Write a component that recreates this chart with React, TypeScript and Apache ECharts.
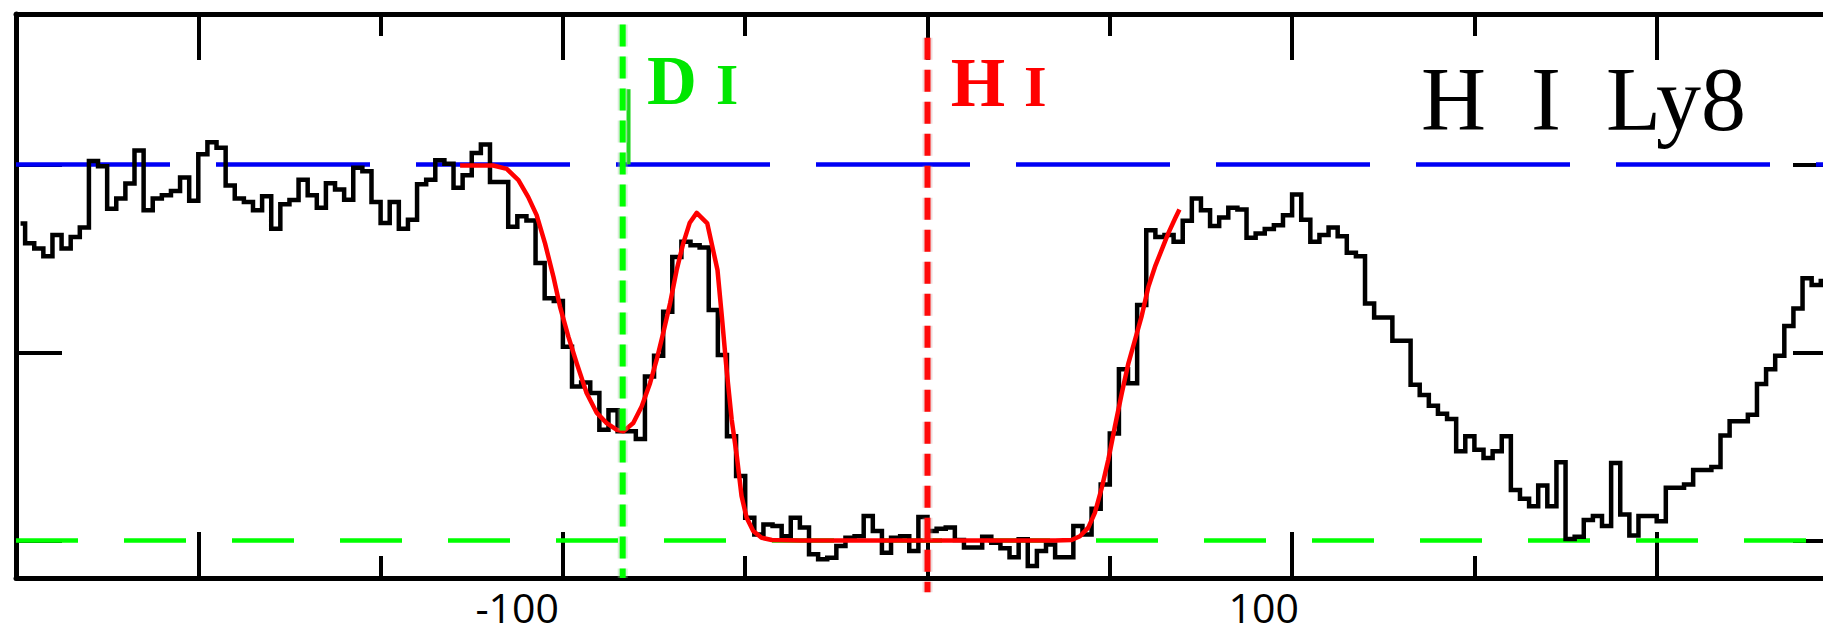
import React, { useEffect, useRef } from "react";
import * as echarts from "echarts";

// Axis ranges (velocity in km/s, normalised flux)
const velocityMin = -250;
const velocityMax = 250;
const fluxMin = -0.1;
const fluxMax = 1.4;

// Tick positions and labels
const majorTicks = [-200, -100, 0, 100, 200];
const minorTicks = [-150, -50, 50, 150];
const tickLabels = [-100, 100];
const fluxTicks = [0, 0.5, 1];

// Observed spectrum: 2.5 km/s bins, first bin centred at -248.75 km/s
const binStart = -248.75;
const binWidth = 2.5;
const observedFlux = [
  0.843, 0.79, 0.776, 0.756, 0.812, 0.776, 0.807, 0.832, 1.009, 0.995,
  0.882, 0.909, 0.949, 1.037, 0.878, 0.909, 0.918, 0.929, 0.965, 0.903,
  1.027, 1.059, 1.044, 0.944, 0.909, 0.9, 0.878, 0.915, 0.829, 0.894,
  0.905, 0.959, 0.918, 0.885, 0.95, 0.933, 0.906, 0.991, 0.982, 0.9,
  0.844, 0.9, 0.829, 0.853, 0.947, 0.959, 1.011, 1.002, 0.938, 0.971,
  1.03, 1.053, 0.953, 0.953, 0.834, 0.862, 0.851, 0.738, 0.644, 0.637,
  0.515, 0.409, 0.42, 0.392, 0.294, 0.346, 0.29, 0.29, 0.27, 0.436,
  0.491, 0.608, 0.754, 0.794, 0.785, 0.779, 0.613, 0.493, 0.277, 0.171,
  0.06, 0.016, 0.042, 0.038, 0.011, 0.06, 0.034, -0.037, -0.05, -0.046,
  -0.015, 0.007, 0.011, 0.065, 0.025, -0.033, 0.007, 0.011, -0.028, 0.062,
  0.025, 0.031, 0.034, 0.001, -0.019, -0.019, 0.01, -0.006, -0.021, -0.045,
  0.003, -0.068, -0.028, -0.011, -0.045, -0.045, 0.038, 0.016, 0.084, 0.149,
  0.284, 0.455, 0.418, 0.626, 0.825, 0.807, 0.812, 0.794, 0.85, 0.909,
  0.878, 0.836, 0.859, 0.885, 0.88, 0.805, 0.816, 0.828, 0.838, 0.865,
  0.92, 0.853, 0.794, 0.812, 0.832, 0.809, 0.765, 0.756, 0.63, 0.593,
  0.593, 0.531, 0.531, 0.414, 0.387, 0.358, 0.337, 0.323, 0.237, 0.277,
  0.241, 0.219, 0.237, 0.277, 0.134, 0.111, 0.091, 0.146, 0.091, 0.208,
  0.004, 0.01, 0.054, 0.065, 0.038, 0.206, 0.069, 0.013, 0.065, 0.065,
  0.051, 0.14, 0.14, 0.149, 0.187, 0.187, 0.195, 0.279, 0.317, 0.317,
  0.334, 0.416, 0.455, 0.491, 0.57, 0.617, 0.697, 0.679, 0.69, 0.7,
];

// Profile fit (D I + H I)
const fitVelocity = [
  -128.2, -119.1, -115.4, -112.2, -109.5, -107.2, -104.9, -102.6, -100.8, -98.5,
  -96.2, -93.5, -90.7, -88.0, -85.2, -83.4, -80.7, -78.4, -76.1, -74.3,
  -72.5, -70.6, -68.8, -67.0, -65.2, -63.3, -60.4, -57.6, -56.4, -55.1,
  -53.7, -52.3, -51.0, -49.6, -47.8, -45.5, -42.7, -35.0, 0.0, 35.0,
  39.5, 41.8, 44.1, 45.9, 47.8, 49.6, 51.4, 53.3, 55.1, 56.9,
  58.7, 60.6, 62.4, 64.2, 66.0, 67.9, 69.1,
];
const fitFlux = [
  0.997, 0.997, 0.988, 0.958, 0.913, 0.865, 0.79, 0.701, 0.622, 0.542,
  0.471, 0.392, 0.339, 0.312, 0.294, 0.29, 0.312, 0.356, 0.418, 0.48,
  0.551, 0.631, 0.719, 0.79, 0.845, 0.871, 0.843, 0.719, 0.595, 0.454,
  0.321, 0.224, 0.118, 0.06, 0.025, 0.007, 0.001, 0.0, 0.0, 0.0,
  0.001, 0.011, 0.034, 0.073, 0.14, 0.215, 0.303, 0.392, 0.471, 0.533,
  0.595, 0.675, 0.728, 0.772, 0.816, 0.856, 0.88,
];

// Reference levels and line positions
const continuumLevel = 1;
const zeroLevel = 0;
const diVelocity = -83.6;
const diLineTop = 1.372;
const diMarkerVelocity = -82;
const diMarkerRange = [1.0, 1.2];
const hiVelocity = 0;
const hiLineRange = [1.337, -0.138];

// The plotting frame runs past the right edge of the visible page
const VIEW_W = 1823;
const VIEW_H = 634;
const CANVAS_W = 1860;
const GRID = { left: 16, top: 14, width: 1823, height: 564 };

const axisLineStyle = { color: "#000", width: 5 };
const tickStyle = { color: "#000", width: 4 };

const labelFont = {
  fontFamily: '"Open Sans", sans-serif',
  fontSize: 41,
  lineHeight: 32,
  color: "#000",
  align: "left",
};

function verticalDashed(
  name: string,
  velocity: number,
  range: number[],
  color: string,
  glow: string,
  clip: boolean
) {
  const data = range.map((f) => [velocity, f]);
  // soft halo under the dashes, then the dashes themselves
  return [
    {
      name: name + " halo",
      type: "line",
      xAxisIndex: 0,
      yAxisIndex: 0,
      clip,
      data,
      symbol: "none",
      silent: true,
      lineStyle: { color: glow, width: 10, type: [22, 10] },
    },
    {
      name,
      type: "line",
      xAxisIndex: 0,
      yAxisIndex: 0,
      clip,
      data,
      symbol: "none",
      silent: true,
      lineStyle: { color, width: 6, type: [22, 10] },
    },
  ];
}

function buildOption() {
  const spectrum = observedFlux.map((f, i) => [binStart + i * binWidth, f]);
  const fit = fitVelocity.map((v, i) => [v, fitFlux[i]]);

  const baseX = {
    type: "value",
    min: velocityMin,
    max: velocityMax,
    splitLine: { show: false },
  };
  const baseY = {
    type: "value",
    min: fluxMin,
    max: fluxMax,
    splitLine: { show: false },
    axisLabel: { show: false },
  };

  return {
    animation: false,
    backgroundColor: "#fff",
    grid: [
      { ...GRID, containLabel: false },
      { ...GRID, containLabel: false },
    ],
    xAxis: [
      {
        ...baseX,
        gridIndex: 0,
        position: "bottom",
        axisLine: { show: true, onZero: false, lineStyle: axisLineStyle },
        axisTick: {
          show: true,
          inside: true,
          length: 46,
          customValues: majorTicks,
          lineStyle: tickStyle,
        },
        axisLabel: {
          show: true,
          customValues: tickLabels,
          margin: 13,
          align: "center",
          fontFamily: '"Open Sans", sans-serif',
          fontSize: 41,
          lineHeight: 32,
          color: "#000",
          formatter: (v: number) => (v < 0 ? `{neg|${v}}` : `{pos|${v}}`),
          rich: {
            neg: { ...labelFont, width: 175 },
            pos: { ...labelFont, width: 127 },
          },
        },
      },
      {
        ...baseX,
        gridIndex: 0,
        position: "top",
        axisLine: { show: true, onZero: false, lineStyle: axisLineStyle },
        axisTick: {
          show: true,
          inside: true,
          length: 46,
          customValues: majorTicks,
          lineStyle: tickStyle,
        },
        axisLabel: { show: false },
      },
      {
        ...baseX,
        gridIndex: 1,
        position: "bottom",
        axisLine: { show: false, onZero: false },
        axisTick: {
          show: true,
          inside: true,
          length: 22,
          customValues: minorTicks,
          lineStyle: tickStyle,
        },
        axisLabel: { show: false },
      },
      {
        ...baseX,
        gridIndex: 1,
        position: "top",
        axisLine: { show: false, onZero: false },
        axisTick: {
          show: true,
          inside: true,
          length: 22,
          customValues: minorTicks,
          lineStyle: tickStyle,
        },
        axisLabel: { show: false },
      },
    ],
    yAxis: [
      {
        ...baseY,
        gridIndex: 0,
        position: "left",
        axisLine: { show: true, onZero: false, lineStyle: axisLineStyle },
        axisTick: {
          show: true,
          inside: true,
          length: 46,
          customValues: fluxTicks,
          lineStyle: tickStyle,
        },
      },
      {
        ...baseY,
        gridIndex: 0,
        position: "right",
        axisLine: { show: true, onZero: false, lineStyle: axisLineStyle },
        axisTick: {
          show: true,
          inside: true,
          length: 46,
          customValues: fluxTicks,
          lineStyle: tickStyle,
        },
      },
      { ...baseY, gridIndex: 1, show: false },
    ],
    series: [
      {
        name: "continuum",
        type: "line",
        xAxisIndex: 0,
        yAxisIndex: 0,
        data: [
          [velocityMin, continuumLevel],
          [velocityMax, continuumLevel],
        ],
        symbol: "none",
        silent: true,
        lineStyle: { color: "#0000f5", width: 4.5, type: [154, 46] },
      },
      {
        name: "zero",
        type: "line",
        xAxisIndex: 0,
        yAxisIndex: 0,
        data: [
          [velocityMin, zeroLevel],
          [velocityMax, zeroLevel],
        ],
        symbol: "none",
        silent: true,
        lineStyle: { color: "#00ff00", width: 4.5, type: [62, 46] },
      },
      {
        name: "spectrum",
        type: "line",
        xAxisIndex: 0,
        yAxisIndex: 0,
        data: spectrum,
        step: "middle",
        symbol: "none",
        silent: true,
        lineStyle: { color: "#000", width: 4.5, join: "miter" },
      },
      {
        name: "fit",
        type: "line",
        xAxisIndex: 0,
        yAxisIndex: 0,
        data: fit,
        symbol: "none",
        silent: true,
        lineStyle: { color: "#ff0000", width: 4.5, join: "round" },
      },
      {
        name: "D I marker",
        type: "line",
        xAxisIndex: 0,
        yAxisIndex: 0,
        data: diMarkerRange.map((f) => [diMarkerVelocity, f]),
        symbol: "none",
        silent: true,
        lineStyle: { color: "#1ed61e", width: 4 },
      },
      ...verticalDashed(
        "D I",
        diVelocity,
        [diLineTop, fluxMin],
        "#00ff00",
        "rgba(150,200,150,0.35)",
        true
      ),
      ...verticalDashed(
        "H I",
        hiVelocity,
        hiLineRange,
        "#ff0a0a",
        "rgba(210,150,150,0.35)",
        false
      ),
    ],
    graphic: [
      {
        type: "text",
        x: 647,
        y: 80.7,
        style: {
          text: "D",
          fontFamily: '"Liberation Serif", serif',
          fontWeight: "bold",
          fontSize: 69,
          fill: "#00e600",
          textAlign: "left",
          textVerticalAlign: "middle",
          align: "left",
          verticalAlign: "middle",
        },
      },
      {
        type: "text",
        x: 716,
        y: 84.8,
        style: {
          text: "I",
          fontFamily: '"Liberation Serif", serif',
          fontWeight: "bold",
          fontSize: 57,
          fill: "#00e600",
          textAlign: "left",
          textVerticalAlign: "middle",
          align: "left",
          verticalAlign: "middle",
        },
      },
      {
        type: "text",
        x: 950.7,
        y: 82.4,
        style: {
          text: "H",
          fontFamily: '"Liberation Serif", serif',
          fontWeight: "bold",
          fontSize: 70,
          fill: "#ff0000",
          textAlign: "left",
          textVerticalAlign: "middle",
          align: "left",
          verticalAlign: "middle",
        },
      },
      {
        type: "text",
        x: 1024,
        y: 86.4,
        style: {
          text: "I",
          fontFamily: '"Liberation Serif", serif',
          fontWeight: "bold",
          fontSize: 58,
          fill: "#ff0000",
          textAlign: "left",
          textVerticalAlign: "middle",
          align: "left",
          verticalAlign: "middle",
        },
      },
      {
        type: "text",
        x: 1421,
        y: 99.6,
        style: {
          text: "H  I  Ly8",
          fontFamily: '"Liberation Serif", serif',
          fontSize: 90,
          fill: "#000",
          textAlign: "left",
          textVerticalAlign: "middle",
          align: "left",
          verticalAlign: "middle",
        },
      },
    ],
  };
}

export default function App() {
  const ref = useRef<HTMLDivElement>(null);
  useEffect(() => {
    if (!ref.current) return;
    const chart = echarts.init(ref.current, null, { renderer: "svg" });
    chart.setOption(buildOption() as any);
    return () => chart.dispose();
  }, []);
  return (
    <div
      style={{
        position: "fixed",
        left: 0,
        top: 0,
        width: VIEW_W,
        height: VIEW_H,
        overflow: "hidden",
        background: "#fff",
      }}
    >
      <div ref={ref} style={{ width: CANVAS_W, height: VIEW_H }} />
    </div>
  );
}
